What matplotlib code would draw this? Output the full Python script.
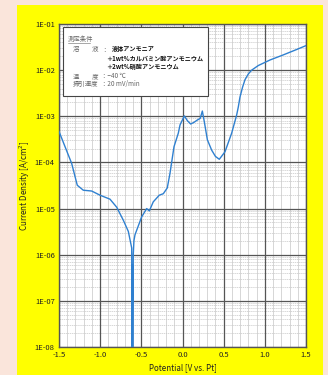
import numpy as np
import matplotlib
matplotlib.use("Agg")
import matplotlib.pyplot as plt
from matplotlib.patches import Rectangle
from matplotlib.ticker import LogLocator, FixedLocator

plt.rcParams['font.family'] = ['Noto Sans CJK JP', 'DejaVu Sans']

# polarization curve
potential = [-1.5, -1.427, -1.346, -1.278, -1.205, -1.103, -1.002, -0.881, -0.799,
             -0.719, -0.658, -0.617, -0.612, -0.608, -0.605, -0.598, -0.590, -0.577,
             -0.496, -0.435, -0.403, -0.355, -0.282, -0.233, -0.185, -0.152, -0.103,
             -0.051, -0.030, 0.022, 0.060, 0.099, 0.140, 0.180, 0.215, 0.241, 0.265,
             0.302, 0.354, 0.400, 0.447, 0.516, 0.597, 0.658, 0.678, 0.698, 0.730, 0.759,
             0.800, 0.840, 0.921, 1.063, 1.224, 1.386, 1.5]
current = [4.7e-4, 2.2e-4, 9.5e-5, 3.2e-5, 2.5e-5, 2.4e-5, 1.95e-5, 1.6e-5, 1.07e-5,
           5.6e-6, 3.2e-6, 1.4e-6, 4e-9, 6e-7, 3e-9, 1.0e-6, 2.0e-6, 2.7e-6,
           6.6e-6, 1.0e-5, 8.9e-6, 1.4e-5, 1.95e-5, 2.1e-5, 2.8e-5, 5.8e-5, 2.2e-4,
           4.3e-4, 6.5e-4, 1.02e-3, 8.0e-4, 6.8e-4, 7.4e-4, 8.3e-4, 9.0e-4, 1.3e-3, 7.6e-4,
           3.1e-4, 1.85e-4, 1.35e-4, 1.17e-4, 1.7e-4, 4.3e-4, 1.07e-3, 1.6e-3, 2.6e-3, 4.3e-3,
           6.2e-3, 8.3e-3, 1.0e-2, 1.26e-2, 1.66e-2, 2.14e-2, 2.8e-2, 3.4e-2]

x_ticks = [-1.5, -1.0, -0.5, 0.0, 0.5, 1.0, 1.5]
x_minor = [-1.4, -1.3, -1.2, -1.1, -0.9, -0.8, -0.7, -0.6, -0.4, -0.3, -0.2, -0.1,
           0.1, 0.2, 0.3, 0.4, 0.6, 0.7, 0.8, 0.9, 1.1, 1.2, 1.3, 1.4]
y_ticks = [1e-8, 1e-7, 1e-6, 1e-5, 1e-4, 1e-3, 1e-2, 1e-1]
y_labels = ['1E-08', '1E-07', '1E-06', '1E-05', '1E-04', '1E-03', '1E-02', '1E-01']

fig = plt.figure(figsize=(3.28, 3.75), dpi=100)
fig.patch.set_facecolor('#fae5db')

# yellow panel behind the chart
bg = fig.add_axes([17 / 328, 0, 306 / 328, 1 - 5 / 375], zorder=-1)
bg.set_facecolor('#ffff00')
bg.set_xticks([])
bg.set_yticks([])
for s in bg.spines.values():
    s.set_visible(False)

ax = fig.add_axes([59 / 328, 28 / 375, 247 / 328, 323 / 375], zorder=1)
ax.set_facecolor('white')
ax.set_yscale('log')
ax.set_xlim(-1.5, 1.5)
ax.set_ylim(1e-8, 1e-1)

ax.xaxis.set_major_locator(FixedLocator(x_ticks))
ax.xaxis.set_minor_locator(FixedLocator(x_minor))
ax.yaxis.set_major_locator(FixedLocator(y_ticks))
ax.yaxis.set_minor_locator(LogLocator(base=10, subs=np.arange(2, 10)))
ax.set_xticklabels(['%.1f' % t for t in x_ticks])
ax.set_yticklabels(y_labels)
ax.tick_params(axis='both', which='major', labelsize=5.5, length=0, pad=3, colors='#222222')
ax.tick_params(axis='both', which='minor', length=0, labelleft=False, labelbottom=False)

# light minor grid, dark major lines drawn on top of it
ax.grid(True, which='minor', axis='x', color='#d0d0d0', linewidth=0.6)
ax.grid(True, which='minor', axis='y', color='#c8c8c8', linewidth=0.5, linestyle=(0, (2, 1)))
ax.set_axisbelow(True)
for t in x_ticks:
    ax.axvline(t, color='#555555', linewidth=0.9, zorder=1.5)
for t in y_ticks:
    ax.axhline(t, color='#555555', linewidth=0.9, zorder=1.5)
for s in ax.spines.values():
    s.set_color('#555555')
    s.set_linewidth(1.0)

ax.plot(potential, current, color='#2f80d0', linewidth=1.0, zorder=3)

ax.set_xlabel('Potential [V vs. Pt]', fontsize=5.8, labelpad=3, color='#222222')
ax.set_ylabel('Current Density [A/cm$^2$]', fontsize=5.8, labelpad=2, color='#222222')

# condition box
box = Rectangle((63 / 328, 1 - 96 / 375), 145 / 328, 69 / 375, transform=fig.transFigure,
                facecolor='white', edgecolor='#444444', linewidth=0.8, zorder=5)
fig.patches.append(box)
gray = '#666666'
fig.text(68 / 328, 1 - 39 / 375, '測定条件', fontsize=4.6, color=gray, va='center', zorder=6)
fig.add_artist(plt.Line2D([68 / 328, 90 / 328], [1 - 42.5 / 375, 1 - 42.5 / 375],
                          transform=fig.transFigure, color=gray, linewidth=0.4, zorder=6))
fig.text(73 / 328, 1 - 49 / 375, '溶　　液', fontsize=4.6, color=gray, va='center', zorder=6)
fig.text(101 / 328, 1 - 49 / 375, '：', fontsize=4.6, color=gray, va='center', zorder=6)
fig.text(112 / 328, 1 - 49 / 375, '液体アンモニア', fontsize=4.4, color='#111111',
         va='center', fontweight='bold', zorder=6)
fig.text(106 / 328, 1 - 58 / 375, '＋1wt%カルバミン酸アンモニウム', fontsize=4.4, color='#111111',
         va='center', fontweight='bold', zorder=6)
fig.text(106 / 328, 1 - 67 / 375, '＋2wt%硝酸アンモニウム', fontsize=4.4, color='#111111',
         va='center', fontweight='bold', zorder=6)
fig.text(73 / 328, 1 - 76 / 375, '温　　度', fontsize=4.6, color=gray, va='center', zorder=6)
fig.text(101 / 328, 1 - 76 / 375, '：−40 ℃', fontsize=4.6, color=gray, va='center', zorder=6)
fig.text(73 / 328, 1 - 84 / 375, '掃引速度', fontsize=4.6, color=gray, va='center', zorder=6)
fig.text(101 / 328, 1 - 84 / 375, '：20 mV/min', fontsize=4.6, color=gray, va='center', zorder=6)

fig.savefig('out.png', dpi=100, facecolor=fig.get_facecolor())
